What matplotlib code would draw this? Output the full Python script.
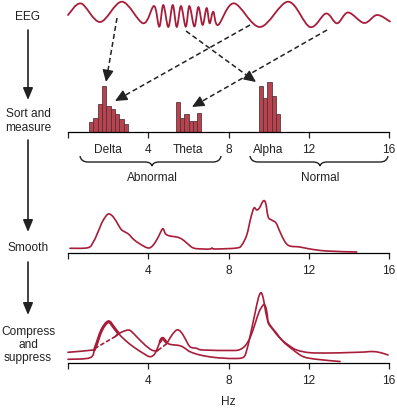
import numpy as np
import matplotlib
matplotlib.use("Agg")
import matplotlib.pyplot as plt
from matplotlib.path import Path
from matplotlib.patches import PathPatch

# ---- data ----
# raw EEG trace (time in the same span as the 0-16 Hz axis, amplitude in px)
eeg_t = [0.00, 0.65, 1.60, 2.69, 3.75, 4.29, 4.55, 4.75, 5.00, 5.22, 5.42, 5.63, 5.87,
         6.05, 6.30, 6.50, 6.71, 6.91, 7.06, 7.24, 7.48, 8.27, 9.57, 10.97, 12.06,
         12.86, 13.41, 13.96, 14.76, 15.40, 16.05]
eeg_v = [15, 26.5, 8, 28.3, 6.7, 24, 3.3, 25, 3, 25, 3, 24, 3.3,
         24, 3.5, 23, 5, 22, 6.7, 18.3, 5, 26.7, 3, 28.3, 3,
         16.5, 6.7, 17.5, 7, 15, 8.5]

# sorted histograms (left bin edge in Hz, bar height)
bin_width = 0.215
delta_bins = [1.05, 1.265, 1.48, 1.695, 1.91, 2.125, 2.34, 2.555, 2.77]
delta_counts = [10, 14, 28, 46, 26, 23, 18, 13, 8]
theta_bins = [5.38, 5.59, 5.80, 6.01, 6.22, 6.43]
theta_counts = [30, 14, 18, 11, 11, 19]
alpha_bins = [9.50, 9.715, 9.93, 10.145, 10.36]
alpha_counts = [46, 34, 50, 36, 18]

hz_ticks = [0, 4, 8, 12, 16]
hz_labels = ["", "4", "8", "12", "16"]
band_pos = [2, 6, 10]
band_names = ["Delta", "Theta", "Alpha"]

# smoothed spectrum
smooth_hz = [0.10, 1.00, 1.26, 1.43, 1.60, 1.76, 2.01, 2.26, 2.51, 2.68, 3.01, 3.25, 3.59,
             4.00, 4.25, 4.50, 4.67, 4.75, 4.87, 5.08, 5.42, 5.67, 5.92, 6.25, 6.74,
             7.08, 7.18, 7.33, 8.41, 8.66, 8.91, 9.11, 9.27, 9.41, 9.54, 9.73, 9.85,
             9.98, 10.15, 10.37, 10.57, 10.82, 11.06, 11.56, 12.06, 12.89, 14.39]
smooth_amp = [4.7, 5.3, 11, 18, 26, 33, 39, 36, 28, 23, 19, 14, 9,
              5, 8, 16, 23, 24, 19, 17, 16, 14, 10, 5, 4,
              4, 5, 4, 5, 8, 18, 35, 45, 43, 45, 52, 50,
              36, 33, 30, 21, 11, 7, 6, 4, 2, 1]

# compressed spectral array: front (earlier) and back (later) spectra
front_hz = [0.00, 1.10, 1.35, 1.68, 2.01, 2.26, 2.51, 2.84, 3.25, 3.75, 4.09, 4.34,
            4.59, 4.72, 4.88, 5.08, 5.58, 5.83, 6.08, 6.58, 7.33, 8.22, 8.74, 8.91,
            9.07, 9.32, 9.49, 9.62, 9.73, 9.82, 9.92, 10.07, 10.40, 10.73, 11.23,
            11.73, 12.40, 13.56]
front_amp = [3.7, 5.3, 15, 33, 41.3, 36.3, 29.7, 23, 16.3, 9.7, 6.3, 9.7,
             21.3, 24.7, 21.3, 18.7, 17.3, 14.7, 11.3, 8, 5.5, 4.5, 5.7, 13,
             26.3, 49.7, 65, 70.3, 65, 55, 45, 38, 29.7, 21.3, 13,
             6.3, 3.7, 1.5]
back_hz = [0.00, 1.26, 1.35, 2.34, 2.43, 2.69, 3.01, 3.19, 3.42, 3.84, 4.17, 4.42,
           4.50, 4.88, 5.00, 5.18, 5.42, 5.62, 5.83, 6.08, 6.41, 6.73, 8.22, 8.57,
           8.82, 9.07, 9.32, 9.52, 9.69, 9.78, 9.87, 9.94, 9.98, 10.23, 10.57, 10.98,
           11.40, 12.06, 13.06, 14.06, 14.80, 15.15, 15.55, 15.95]
back_amp = [10.7, 13, 14.7, 26.3, 28, 31, 33, 31, 26.3, 18, 13, 12,
            13, 18.7, 22, 28, 33, 31.3, 24.7, 16.3, 14.7, 13, 12.5, 13.5,
            17, 25, 39, 51, 57, 58.5, 55, 47, 40, 33, 24.7, 18,
            13, 10.3, 10, 10.5, 11, 11.5, 10.5, 8]
front_thick = [(1.35, 2.51), (4.59, 4.88)]
back_hidden = [(1.35, 2.34), (4.50, 4.88)]

RED = "#a71d3a"
BAR = "#b8434f"
INK = "#222222"

plt.rcParams["font.family"] = ["Liberation Sans", "DejaVu Sans"]
plt.rcParams["font.size"] = 8.6

W, H = 397, 408
fig = plt.figure(figsize=(W / 100, H / 100), dpi=100)


def px_axes(x0, y_top, x1, y_bot):
    return fig.add_axes([x0 / W, 1 - y_bot / H, (x1 - x0) / W, (y_bot - y_top) / H])


def smooth_path(x, y, i0=0, i1=None):
    pts = np.column_stack([x, y]).astype(float)
    n = len(pts)
    i1 = n - 1 if i1 is None else i1
    verts, codes = [pts[i0]], [Path.MOVETO]
    for i in range(i0, i1):
        p0, p1 = pts[max(i - 1, 0)], pts[i]
        p2, p3 = pts[i + 1], pts[min(i + 2, n - 1)]
        verts += [p1 + (p2 - p0) / 6, p2 - (p3 - p1) / 6, p2]
        codes += [Path.CURVE4] * 3
    return Path(verts, codes)


def draw(a, x, y, i0=0, i1=None, **kw):
    a.add_patch(PathPatch(smooth_path(x, y, i0, i1), fill=False, clip_on=False,
                          capstyle="round", joinstyle="round", **kw))


def hz_axis(a, ymax):
    a.set_xlim(0, 16)
    a.set_ylim(0, ymax)
    a.patch.set_visible(False)
    for s in ["top", "right", "left"]:
        a.spines[s].set_visible(False)
    a.spines["bottom"].set_linewidth(0.9)
    a.set_yticks([])
    a.set_xticks(hz_ticks)
    a.set_xticklabels(hz_labels)
    a.tick_params(axis="x", length=4.5, width=0.9, pad=3.8, colors=INK)


# EEG trace
ax_e = px_axes(68, 0, 389, 30)
ax_e.set_xlim(0, 16)
ax_e.set_ylim(0, 30)
ax_e.axis("off")
draw(ax_e, eeg_t, eeg_v, edgecolor=RED, lw=1.3)

# sort and measure
ax_h = px_axes(68, 70, 389, 132)
hz_axis(ax_h, 62)
for edges, counts in [(delta_bins, delta_counts), (theta_bins, theta_counts),
                      (alpha_bins, alpha_counts)]:
    ax_h.bar(edges, counts, width=bin_width, align="edge", color=BAR,
             edgecolor="#4a3034", linewidth=0.55)
ax_h.set_xticks(band_pos, minor=True)
ax_h.set_xticklabels(band_names, minor=True)
ax_h.tick_params(axis="x", which="minor", length=0, pad=8.3, colors=INK)

# smooth
ax_s = px_axes(68, 195, 389, 253)
hz_axis(ax_s, 58)
draw(ax_s, smooth_hz, smooth_amp, edgecolor=RED, lw=1.2)

# compress and suppress
ax_c = px_axes(68, 285, 389, 363)
hz_axis(ax_c, 78)
ax_c.set_xlabel("Hz", labelpad=6.5, color=INK)
draw(ax_c, front_hz, front_amp, edgecolor=RED, lw=1.2)
for lo, hi in front_thick:
    draw(ax_c, front_hz, front_amp, front_hz.index(lo), front_hz.index(hi),
         edgecolor=RED, lw=2.2)
cuts = [0] + [back_hz.index(v) for pair in back_hidden for v in pair] + [len(back_hz) - 1]
for k in range(len(cuts) - 1):
    hidden = k % 2 == 1
    draw(ax_c, back_hz, back_amp, cuts[k], cuts[k + 1], edgecolor=RED, lw=1.2,
         linestyle=(0, (2, 2)) if hidden else "-")

# overlay for labels, arrows and braces (pixel coordinates)
ov = fig.add_axes([0, 0, 1, 1])
ov.set_xlim(0, W)
ov.set_ylim(H, 0)
ov.axis("off")

ov.text(28, 17, "EEG", ha="center", va="center", color=INK)
ov.text(28, 121, "Sort and\nmeasure", ha="center", va="center", linespacing=1.15, color=INK)
ov.text(28, 248, "Smooth", ha="center", va="center", color=INK)
ov.text(28, 345, "Compress\nand\nsuppress", ha="center", va="center", linespacing=1.15,
        color=INK)
ov.text(152, 178, "Abnormal", ha="center", va="center", color=INK)
ov.text(320, 178, "Normal", ha="center", va="center", color=INK)

for y0, y1 in [(30, 100), (140, 232), (262, 315)]:
    ov.annotate("", xy=(28, y1), xytext=(28, y0),
                arrowprops=dict(arrowstyle="-|>,head_length=0.6,head_width=0.25",
                                lw=1.2, color=INK, mutation_scale=12, shrinkA=0, shrinkB=0))

for x0, y0, x1, y1 in [(117, 18, 106, 82), (250, 25, 115, 101),
                       (327, 30, 192, 107), (186, 31, 256, 82)]:
    d = np.array([x1 - x0, y1 - y0], float)
    d /= np.hypot(*d)
    bx, by = np.array([x1, y1]) - d * 10
    ov.plot([x0, bx], [y0, by], color=INK, lw=1.1, ls=(0, (3.3, 2)))
    ov.annotate("", xy=(x1, y1), xytext=(bx, by),
                arrowprops=dict(arrowstyle="-|>,head_length=0.6,head_width=0.28",
                                lw=1.0, color=INK, mutation_scale=12, shrinkA=0, shrinkB=0))


def brace(x0, xm, x1, yt=156, ym=162, yb=166):
    verts = [(x0, yt), (x0 + 1, ym), (x0 + 8, ym), (xm - 7, ym), (xm - 1, ym), (xm, yb),
             (xm + 1, ym), (xm + 7, ym), (x1 - 8, ym), (x1 - 1, ym), (x1, yt)]
    codes = [Path.MOVETO, Path.CURVE3, Path.CURVE3, Path.LINETO, Path.CURVE3, Path.CURVE3,
             Path.CURVE3, Path.CURVE3, Path.LINETO, Path.CURVE3, Path.CURVE3]
    ov.add_patch(PathPatch(Path(verts, codes), fill=False, edgecolor=INK, lw=1.0))


brace(80, 152, 221)
brace(250, 320, 388)

fig.savefig("out.png", dpi=100)
